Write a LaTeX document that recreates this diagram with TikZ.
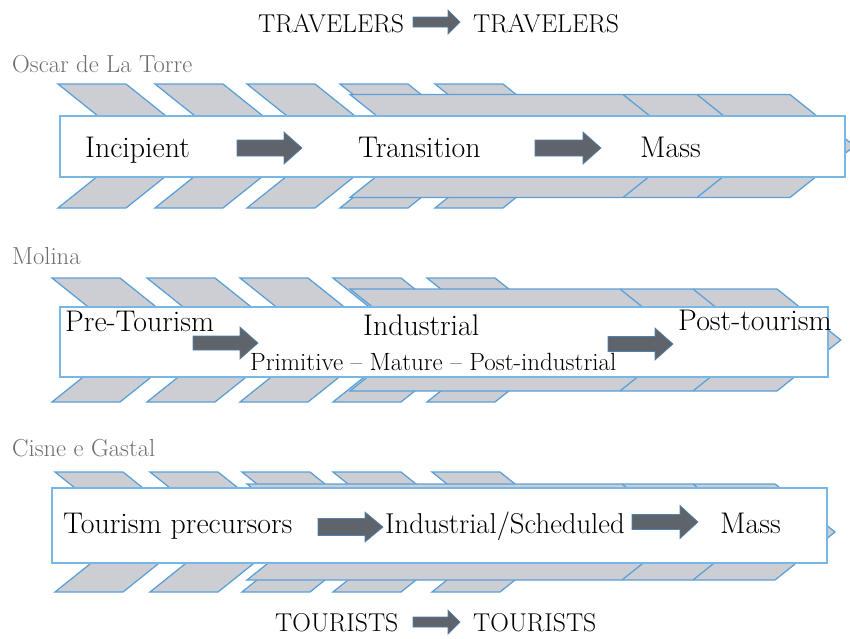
\documentclass[tikz,border=0pt]{standalone}
\usepackage{tikz}
\usetikzlibrary{calc}
\definecolor{chevfill}{RGB}{205,206,212}
\definecolor{chevedge}{RGB}{91,160,215}
\definecolor{boxedge}{RGB}{120,182,228}
\definecolor{arrowfill}{RGB}{95,100,106}
\definecolor{arrowedge}{RGB}{80,130,175}
\definecolor{labelgray}{RGB}{110,110,110}
\tikzset{main base/.style={inner sep=0pt,anchor=base west}, }
\tikzset{main stage/.style={main base,font=\fontsize{25.5}{29}\selectfont}, }
\tikzset{main sub/.style={main base,font=\fontsize{21.3}{25}\selectfont}, }
\tikzset{main title/.style={main base,font=\fontsize{22}{26}\selectfont}, }
\tikzset{main label/.style={main base,text=labelgray,font=\fontsize{21}{25}\selectfont}, }
\tikzset{chev/.style={fill=chevfill,draw=chevedge,line width=1.1pt}, }
\tikzset{chev line/.style={draw=chevedge,line width=1.1pt}, }
\tikzset{fascia/.style={fill=white,draw=boxedge,line width=1.3pt}, }
\tikzset{main arrow/.style={fill=arrowfill,draw=arrowedge,line width=0.6pt}, }
% chevron: left x, middle y, half height, width
\newcommand{\chevron}[4]{%
  \filldraw[chev] (#1,{#2-#3}) -- ({#1+#4},{#2-#3}) -- ({#1+#4+1.25*#3},#2)
    -- ({#1+#4},{#2+#3}) -- (#1,{#2+#3}) -- ({#1+1.25*#3},#2) -- cycle;}
% divider on the long bar: x, middle y, half height
\newcommand{\divider}[3]{%
  \draw[chev line] (#1,{#2-#3}) -- ({#1+1.25*#3},#2) -- (#1,{#2+#3});}
% block arrow: x, y, length, head length, shaft half, head half
\newcommand{\bigarrow}[6]{%
  \filldraw[main arrow] (#1,{#2-#5}) -- ({#1+#3-#4},{#2-#5}) -- ({#1+#3-#4},{#2-#6})
    -- ({#1+#3},#2) -- ({#1+#3-#4},{#2+#6}) -- ({#1+#3-#4},{#2+#5})
    -- (#1,{#2+#5}) -- cycle;}

\begin{document}
\begin{tikzpicture}[x=0.3mm,y=-0.3mm]
  \useasboundingbox (0,0) rectangle (850,638);
  %
  % first band
  \foreach \x in {58,155,247,340,435} \chevron{\x}{146}{62}{68};
  \chevron{350}{146}{51.5}{440}
  \foreach \x in {623,697} \divider{\x}{146}{51.5};
  \draw[fascia] (60,116) rectangle (845,177);
  % second band
  \foreach \x in {52,147,240,333,427} \chevron{\x}{340}{62}{68};
  \chevron{350}{340}{51}{427}
  \foreach \x in {620,693} \divider{\x}{340}{51};
  \draw[fascia] (60,307) rectangle (828,377);
  % third band
  \foreach \x in {55,150,242,333,432} \chevron{\x}{532}{60}{68};
  \chevron{247}{532}{48}{528}
  \foreach \x in {622,693} \divider{\x}{532}{48};
  \draw[fascia] (52,488) rectangle (827,563);
  %
  \node[main title] (1) at (258,32) {TRAVELERS};
  \node[main title] (2) at (473,32) {TRAVELERS};
  \node[main title] (3) at (275,631) {TOURISTS};
  \node[main title] (4) at (473,631) {TOURISTS};
  %
  \node[main label] (5) at (12,72) {Oscar de La Torre};
  \node[main stage] (6) at (85,157) {Incipient};
  \node[main stage] (7) at (358,157) {Transition};
  \node[main stage] (8) at (640,157) {Mass};
  %
  \node[main label] (9) at (12,264) {Molina};
  \node[main stage] (10) at (65,331) {Pre-Tourism};
  \node[main stage] (11) at (363,335) {Industrial};
  \node[main sub] (12) at (250,370) {Primitive \textendash{} Mature \textendash{} Post-industrial};
  \node[main stage] (13) at (678,330) {Post-tourism};
  %
  \node[main label] (14) at (12,456) {Cisne e Gastal};
  \node[main stage] (15) at (63,533) {Tourism precursors};
  \node[main stage,font=\fontsize{24.5}{28}\selectfont] (16) at (385,533) {Industrial/Scheduled};
  \node[main stage] (17) at (720,533) {Mass};
  %
  \bigarrow{413}{22}{47}{12}{5}{12}
  \bigarrow{413}{622}{47}{12}{5}{12}
  \bigarrow{237}{148}{65}{18}{8}{16}
  \bigarrow{535}{148}{66}{18}{8}{16}
  \bigarrow{193}{343}{65}{18}{7}{16}
  \bigarrow{608}{344}{65}{18}{7.5}{16}
  \bigarrow{318}{527}{65}{18}{8.5}{15}
  \bigarrow{632}{522}{66}{18}{7.5}{16.5}
%
\end{tikzpicture}
\end{document}
